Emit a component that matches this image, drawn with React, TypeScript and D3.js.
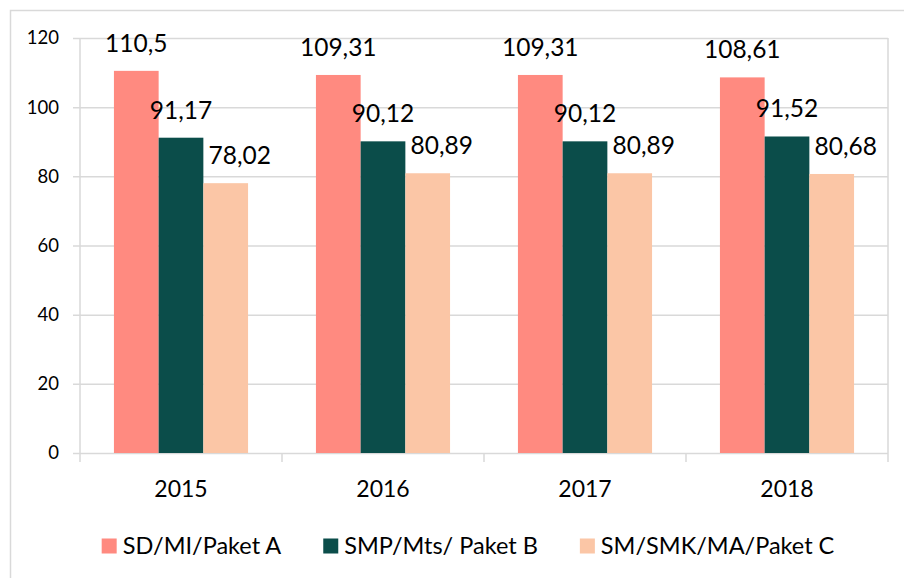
import React, { useEffect, useRef } from "react";
import * as d3 from "d3";

const categories = ["2015", "2016", "2017", "2018"];
const seriesNames = ["SD/MI/Paket A", "SMP/Mts/ Paket B", "SM/SMK/MA/Paket C"];
const seriesA = [110.5, 109.31, 109.31, 108.61];
const seriesB = [91.17, 90.12, 90.12, 91.52];
const seriesC = [78.02, 80.89, 80.89, 80.68];
const seriesLabels = [
  ["110,5", "109,31", "109,31", "108,61"],
  ["91,17", "90,12", "90,12", "91,52"],
  ["78,02", "80,89", "80,89", "80,68"],
];
const yTicks = [0, 20, 40, 60, 80, 100, 120];
const colors = ["#FF8A80", "#0B4D4A", "#FBC6A6"];

const W = 904;
const H = 578;
const FONT = "Lato, 'Open Sans', sans-serif";

export default function App() {
  const ref = useRef<SVGSVGElement>(null);

  useEffect(() => {
    const svg = d3.select(ref.current);
    svg.selectAll("*").remove();

    const left = 80, right = 888, top = 38, bottom = 453;
    const grid = "#D9D9D9";
    const labelShift = [0, 0, 14];

    // outer border
    svg.append("rect")
      .attr("x", 10.5).attr("y", 10.5)
      .attr("width", W + 20).attr("height", H + 20)
      .attr("fill", "white").attr("stroke", grid).attr("stroke-width", 1.5);

    const y = d3.scaleLinear().domain([0, 120]).range([bottom, top]);
    const x0 = d3.scaleBand<string>().domain(categories).range([left, right]).padding(0);
    const groupW = x0.bandwidth() * 0.664;
    const x1 = d3.scaleBand<number>().domain([0, 1, 2])
      .range([0, groupW]).padding(0);

    // gridlines
    svg.append("g").selectAll("line").data(yTicks).join("line")
      .attr("x1", left - 7).attr("x2", right)
      .attr("y1", (d) => y(d) + 0.5).attr("y2", (d) => y(d) + 0.5)
      .attr("stroke", grid).attr("stroke-width", 1.5);

    // vertical lines: left axis, right border
    [left, right].forEach((xx) => {
      svg.append("line").attr("x1", xx).attr("x2", xx)
        .attr("y1", top).attr("y2", bottom + 9)
        .attr("stroke", grid).attr("stroke-width", 1.5);
    });
    // category tick marks
    svg.append("g").selectAll("line").data(categories.slice(1)).join("line")
      .attr("x1", (d) => x0(d)!).attr("x2", (d) => x0(d)!)
      .attr("y1", bottom).attr("y2", bottom + 9)
      .attr("stroke", grid).attr("stroke-width", 1.5);

    // y tick labels
    svg.append("g").selectAll("text").data(yTicks).join("text")
      .attr("x", 59).attr("y", (d) => y(d))
      .attr("dy", "0.35em")
      .attr("text-anchor", "end")
      .attr("font-family", FONT).attr("font-size", 18.5).attr("fill", "#000")
      .text((d) => String(d));

    // x labels
    svg.append("g").selectAll("text").data(categories).join("text")
      .attr("x", (d) => x0(d)! + x0.bandwidth() / 2).attr("y", 497)
      .attr("text-anchor", "middle")
      .attr("font-family", FONT).attr("font-size", 23).attr("fill", "#000")
      .text((d) => d);

    const allSeries = [seriesA, seriesB, seriesC];
    allSeries.forEach((vals, si) => {
      const g = svg.append("g");
      const off = (x0.bandwidth() - groupW) / 2;
      g.selectAll("rect").data(vals).join("rect")
        .attr("x", (_, i) => x0(categories[i])! + off + x1(si)!)
        .attr("y", (d) => y(d))
        .attr("width", x1.bandwidth())
        .attr("height", (d) => y(0) - y(d))
        .attr("fill", colors[si]);
      g.selectAll("text").data(vals).join("text")
        .attr("x", (_, i) => x0(categories[i])! + off + x1(si)! + x1.bandwidth() / 2 + labelShift[si])
        .attr("y", (d) => y(d) - 19)
        .attr("text-anchor", "middle")
        .attr("font-family", FONT).attr("font-size", 24.5).attr("fill", "#000")
        .text((_, i) => seriesLabels[si][i]);
    });

    // legend
    const lg = svg.append("g");
    const items = seriesNames.map((name, i) => {
      const it = lg.append("g");
      it.append("rect").attr("x", 0).attr("y", -7.5).attr("width", 15).attr("height", 15).attr("fill", colors[i]);
      const t = it.append("text").attr("x", 21).attr("y", 0).attr("dy", "0.35em")
        .attr("font-family", FONT).attr("font-size", 23.5).attr("fill", "#000").text(name);
      const w = 21 + (t.node() as SVGTextElement).getComputedTextLength();
      return { it, w };
    });
    const gap = 42;
    const total = items.reduce((s, d) => s + d.w, 0) + gap * (items.length - 1);
    let cx = 468 - total / 2;
    items.forEach(({ it, w }) => {
      it.attr("transform", `translate(${cx},546)`);
      cx += w + gap;
    });
  }, []);

  return (
    <svg ref={ref} width={W} height={H} style={{ position: "absolute", left: 0, top: 0, background: "white" }} />
  );
}
